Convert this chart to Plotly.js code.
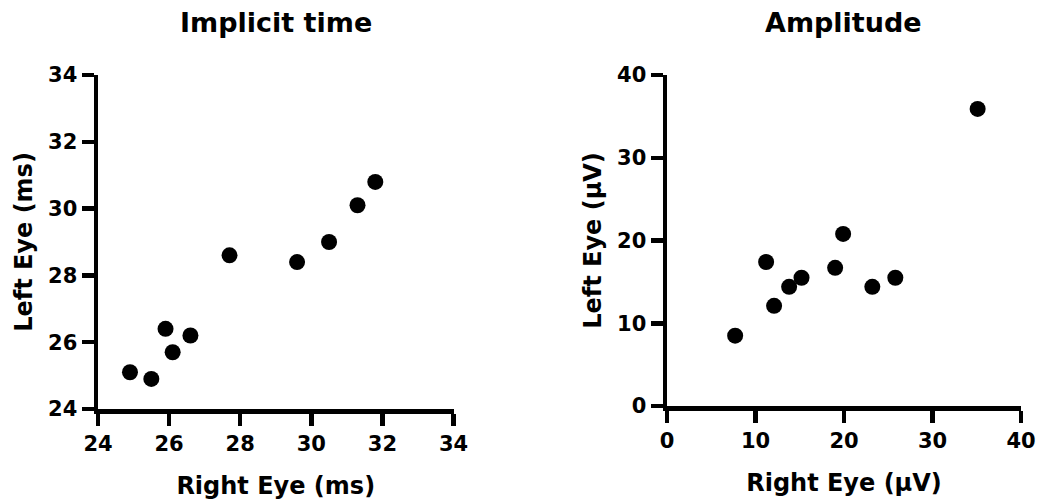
<!DOCTYPE html>
<html>
<head>
<meta charset="utf-8">
<script src="https://cdn.plot.ly/plotly-3.0.1.min.js"></script>
<style>
  html, body { margin: 0; padding: 0; background: #ffffff; }
  #chart { width: 1044px; height: 503px; }
</style>
</head>
<body>
<div id="chart"></div>
<script>
// Implicit time (ms): right eye vs left eye
const implicitRight = [24.9, 25.5, 25.9, 26.1, 26.6, 27.7, 29.6, 30.5, 31.3, 31.8];
const implicitLeft  = [25.1, 24.9, 26.4, 25.7, 26.2, 28.6, 28.4, 29.0, 30.1, 30.8];

// Amplitude (µV): right eye vs left eye
const amplitudeRight = [7.7, 11.2, 12.1, 13.8, 15.2, 19.0, 19.9, 23.2, 25.8, 35.1];
const amplitudeLeft  = [8.5, 17.4, 12.1, 14.4, 15.5, 16.7, 20.8, 14.4, 15.5, 35.9];

const panelTitles = ['Implicit time', 'Amplitude'];
const xTitles = ['Right Eye (ms)', 'Right Eye (\u00b5V)'];
const yTitles = ['Left Eye (ms)', 'Left Eye (\u00b5V)'];

const W = 1044, H = 503;
const px = v => v / W;
const py = v => 1 - v / H;

const FONT = 'DejaVu Sans, Arial, sans-serif';
const tickFont = { family: FONT, size: 21, color: '#000', weight: 'bold' };
const titleFont = { family: FONT, size: 24, color: '#000', weight: 'bold' };

const marker = { color: '#000000', size: 16, line: { width: 0 } };

const traces = [
  { x: implicitRight, y: implicitLeft, type: 'scatter', mode: 'markers',
    marker: marker, xaxis: 'x', yaxis: 'y', showlegend: false, hoverinfo: 'x+y' },
  { x: amplitudeRight, y: amplitudeLeft, type: 'scatter', mode: 'markers',
    marker: marker, xaxis: 'x2', yaxis: 'y2', showlegend: false, hoverinfo: 'x+y' }
];

function axis(opts) {
  return Object.assign({
    showgrid: false, zeroline: false,
    showline: true, linecolor: '#000', linewidth: 4.5,
    ticks: 'outside', ticklen: 12, tickwidth: 4.5, tickcolor: '#000',
    tickfont: tickFont, fixedrange: true
  }, opts);
}

const dom1x = [px(98), px(453.5)];
const dom2x = [px(667), px(1021)];

const layout = {
  width: W, height: H,
  margin: { l: 0, r: 0, t: 0, b: 0 },
  paper_bgcolor: '#ffffff', plot_bgcolor: '#ffffff',
  showlegend: false,
  xaxis: axis({ domain: dom1x, range: [24, 34], dtick: 2, tick0: 24, anchor: 'y',
    title: { text: xTitles[0], font: titleFont, standoff: 24 } }),
  yaxis: axis({ domain: [py(409), py(75)], range: [24, 34], dtick: 2, tick0: 24, anchor: 'x',
    title: { text: yTitles[0], font: titleFont, standoff: 10 } }),
  xaxis2: axis({ domain: dom2x, range: [0, 40], dtick: 10, tick0: 0, anchor: 'y2',
    title: { text: xTitles[1], font: titleFont, standoff: 24 } }),
  yaxis2: axis({ domain: [py(406), py(75)], range: [0, 40], dtick: 10, tick0: 0, anchor: 'x2',
    title: { text: yTitles[1], font: titleFont, standoff: 10 } }),
  annotations: [
    { text: panelTitles[0], xref: 'paper', yref: 'paper',
      x: (dom1x[0] + dom1x[1]) / 2, y: py(22), xanchor: 'center', yanchor: 'middle',
      showarrow: false, font: { family: FONT, size: 27, color: '#000', weight: 'bold' } },
    { text: panelTitles[1], xref: 'paper', yref: 'paper',
      x: (dom2x[0] + dom2x[1]) / 2, y: py(22), xanchor: 'center', yanchor: 'middle',
      showarrow: false, font: { family: FONT, size: 27, color: '#000', weight: 'bold' } }
  ]
};

Plotly.newPlot('chart', traces, layout, { displayModeBar: false, staticPlot: true });
</script>
</body>
</html>
